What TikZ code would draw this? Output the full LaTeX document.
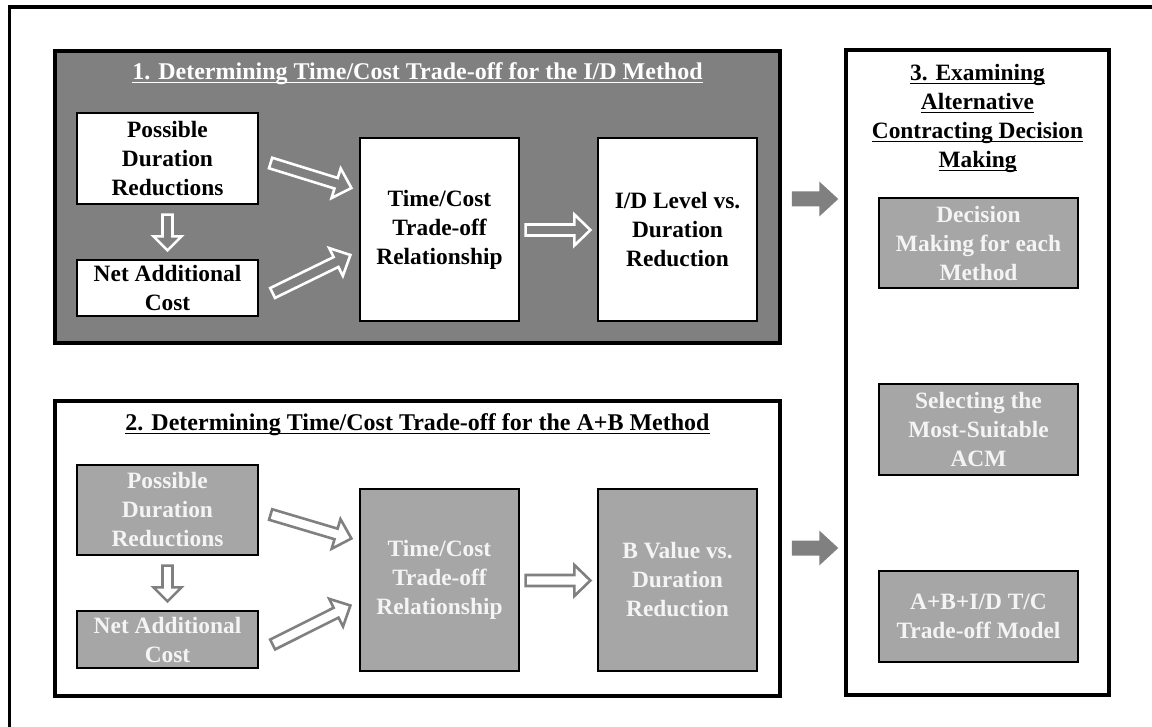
\documentclass[tikz,border=0pt]{standalone}
\usepackage{fontspec}
\setmainfont{Liberation Serif}
\usetikzlibrary{calc}

\definecolor{panelgray}{RGB}{128,128,128}
\definecolor{boxgray}{RGB}{166,166,166}
\definecolor{paletext}{RGB}{244,244,244}

% underline set at a fixed distance below the baseline
\newsavebox\ulinebox
\newcommand\ulinetext[1]{\sbox\ulinebox{#1}\rlap{\rule[-3.2pt]{\wd\ulinebox}{1.6pt}}\usebox\ulinebox}

% block arrow: #1 style, #2 tail, #3 tip, #4 shaft half-width, #5 head half-width, #6 head length
\newcommand\blockarrow[6]{%
  \coordinate (ba-t) at #2;
  \coordinate (ba-h) at #3;
  \coordinate (ba-m) at ($(ba-h)!#6!(ba-t)$);
  \path[#1] ($(ba-t)!#4!90:(ba-h)$) -- ($(ba-m)!#4!90:(ba-h)$)
    -- ($(ba-m)!#5!90:(ba-h)$) -- (ba-h) -- ($(ba-m)!#5!-90:(ba-h)$)
    -- ($(ba-m)!#4!-90:(ba-h)$) -- ($(ba-t)!#4!-90:(ba-h)$) -- cycle;}

\begin{document}
\begin{tikzpicture}[x=1pt,y=-1pt,
  every node/.style={font=\fontsize{23.4}{29}\selectfont\bfseries},
  titlefont/.style={font=\fontsize{24}{29}\selectfont\bfseries},
  panel/.style={rectangle, draw=black, line width=3.5pt, inner sep=0pt},
  stagebox/.style={rectangle, draw=black, line width=1.2pt, inner sep=0pt, align=center},
  whitebox/.style={stagebox, fill=white, text=black},
  graybox/.style={stagebox, fill=boxgray, text=paletext},
  hollowW/.style={draw=white, line width=2.6pt, line join=miter},
  hollowG/.style={draw=panelgray, line width=2.6pt, line join=miter},
  solidG/.style={fill=panelgray}
]
\useasboundingbox (0,0) rectangle (1152,727);
\fill[white] (0,0) rectangle (1152,727);

% outer frame (runs off the page at right and bottom)
\draw[line width=3.5pt] (9.5,730) -- (9.5,7) -- (1160,7);

% ---- panels ----
\node[panel, fill=panelgray, minimum width=725pt, minimum height=292pt] (box1) at (417.5,197) {};
\node[panel, fill=white, minimum width=725pt, minimum height=295pt] (box2) at (417.5,548.5) {};
\node[panel, fill=white, minimum width=263pt, minimum height=645pt] (box3) at (977.5,372.5) {};

% ---- titles ----
\node[titlefont, anchor=base, text=white] (title1) at (417.5,80) {\ulinetext{1. Determining Time/Cost Trade-off for the I/D Method}};
\node[titlefont, anchor=base, text=black] (title2) at (417.5,431) {\ulinetext{2. Determining Time/Cost Trade-off for the A+B Method}};
\node[anchor=north, inner sep=0pt, align=center, text=black] (title3) at (977.5,64.5)
  {\ulinetext{3. Examining}\\\ulinetext{Alternative}\\\ulinetext{Contracting Decision}\\\ulinetext{Making}};

% ---- section 1: I/D method ----
\node[whitebox, minimum width=181pt, minimum height=91pt] (pdr1) at (167.5,158.5) {Possible\\Duration\\Reductions};
\node[whitebox, minimum width=181pt, minimum height=56pt] (nac1) at (167.5,288) {Net Additional\\Cost};
\node[whitebox, minimum width=159pt, minimum height=183pt] (tc1) at (439.5,229.5) {Time/Cost\\Trade-off\\Relationship};
\node[whitebox, minimum width=159pt, minimum height=183pt] (id1) at (677.5,229.5) {I/D Level vs.\\Duration\\Reduction};

% ---- section 2: A+B method ----
\node[graybox, minimum width=181pt, minimum height=90pt] (pdr2) at (167.5,510) {Possible\\Duration\\Reductions};
\node[graybox, minimum width=181pt, minimum height=57pt] (nac2) at (167.5,639.5) {Net Additional\\Cost};
\node[graybox, minimum width=159pt, minimum height=182pt] (tc2) at (439.5,580) {Time/Cost\\Trade-off\\Relationship};
\node[graybox, minimum width=159pt, minimum height=182pt] (bv2) at (677.5,580) {B Value vs.\\Duration\\Reduction};

% ---- section 3: decision making ----
\node[graybox, minimum width=199pt, minimum height=90pt] (dec) at (978.5,243) {Decision\\Making for each\\Method};
\node[graybox, minimum width=199pt, minimum height=91pt] (sel) at (978.5,429.5) {Selecting the\\Most-Suitable\\ACM};
\node[graybox, minimum width=199pt, minimum height=91pt] (abm) at (978.5,616.5) {A+B+I/D T/C\\Trade-off Model};

% ---- hollow arrows, section 1 ----
\blockarrow{hollowW}{($(pdr1.east)+(12,4.5)$)}{($(tc1.west)+(-8,-41.5)$)}{5.5pt}{15.5pt}{16pt}
\blockarrow{hollowW}{($(nac1.east)+(14,5)$)}{($(tc1.west)+(-9,25.5)$)}{5.5pt}{15.5pt}{16pt}
\blockarrow{hollowW}{($(pdr1.south)+(0,10)$)}{($(nac1.north)+(0,-9)$)}{5pt}{14pt}{14pt}
\blockarrow{hollowW}{($(tc1.east)+(6,0.5)$)}{($(id1.west)+(-7,0.5)$)}{5.5pt}{15.5pt}{16pt}

% ---- hollow arrows, section 2 ----
\blockarrow{hollowG}{($(pdr2.east)+(12,4.5)$)}{($(tc2.west)+(-8,-41.5)$)}{5.5pt}{15.5pt}{16pt}
\blockarrow{hollowG}{($(nac2.east)+(14,5)$)}{($(tc2.west)+(-9,25.5)$)}{5.5pt}{15.5pt}{16pt}
\blockarrow{hollowG}{($(pdr2.south)+(0,10)$)}{($(nac2.north)+(0,-9)$)}{5pt}{14pt}{14pt}
\blockarrow{hollowG}{($(tc2.east)+(6,0.5)$)}{($(bv2.west)+(-7,0.5)$)}{5.5pt}{15.5pt}{16pt}

% ---- solid arrows into section 3 ----
\blockarrow{solidG}{($(box1.east)+(10,2)$)}{($(box3.west |- box1.east)+(-6,2)$)}{7.5pt}{17.5pt}{19pt}
\blockarrow{solidG}{($(box2.east)+(10,-0.5)$)}{($(box3.west |- box2.east)+(-6,-0.5)$)}{7.5pt}{17.5pt}{19pt}
\end{tikzpicture}
\end{document}
